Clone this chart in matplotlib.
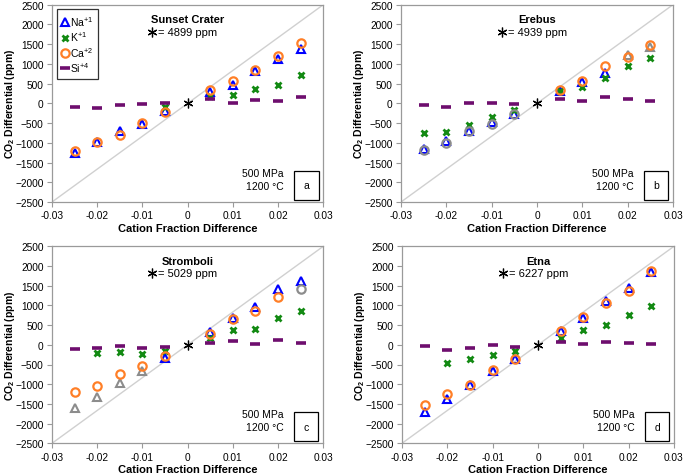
import numpy as np
import matplotlib
matplotlib.use("Agg")
import matplotlib.pyplot as plt

plt.rcParams['font.family'] = ['Liberation Sans', 'DejaVu Sans']
plt.rcParams['mathtext.fontset'] = 'custom'
plt.rcParams['mathtext.rm'] = 'Liberation Sans'
plt.rcParams['mathtext.bf'] = 'Liberation Sans:bold'
plt.rcParams['mathtext.it'] = 'Liberation Sans:italic'

nan = float("nan")

# ---------------- data ----------------
x_vals = [-0.025, -0.02, -0.015, -0.01, -0.005, 0.005, 0.01, 0.015, 0.02, 0.025]

panel_names = ["Sunset Crater", "Erebus", "Stromboli", "Etna"]
panel_letters = ["a", "b", "c", "d"]
base_co2 = [4899, 4939, 5029, 6227]

na_sunset = [-1250, -990, -700, -520, -200, 290, 460, 830, 1120, 1390]
k_sunset = [nan, nan, nan, nan, -100, 190, 215, 360, 470, 720]
ca_sunset = [-1200, -980, -790, -500, -230, 340, 570, 850, 1190, 1540]
si_sunset = [-90, -130, -45, -15, 10, 105, 20, 80, 60, 150]

na_erebus = [-1150, -960, -700, -480, -260, 320, 550, 770, 1230, 1440]
k_erebus = [-760, -730, -545, -350, -180, 310, 410, 650, 950, 1160]
ca_erebus = [-1180, -1000, -710, -520, -265, 350, 560, 955, 1170, 1490]
si_erebus = [-30, -80, 0, 0, -20, 115, 60, 155, 115, 60]

na_stromboli = [-1610, -1320, -970, -670, -330, 330, 680, 970, 1420, 1620]
k_stromboli = [nan, -205, -175, -230, -150, 175, 375, 395, 680, 860]
ca_stromboli = [-1205, -1045, -740, -545, -290, 285, 655, 860, 1205, 1410]
si_stromboli = [-100, -70, -20, -90, -55, 45, 90, 10, 115, 45]

na_etna = [-1700, -1380, -1010, -660, -360, 345, 690, 1110, 1440, 1850]
k_etna = [nan, -470, -370, -260, -170, 160, 380, 515, 760, 990]
ca_etna = [-1520, -1250, -1020, -650, -365, 355, 710, 1055, 1370, 1875]
si_etna = [-20, -120, -75, -10, -60, 70, 15, 75, 50, 10]

# points shown in grey (flag per point)
na_grey = [
    [0] * 10,
    [0, 0, 0, 0, 0, 0, 0, 0, 1, 1],
    [1, 1, 1, 1, 0, 0, 0, 0, 0, 0],
    [0] * 10,
]
ca_grey = [
    [0] * 10,
    [1, 1, 1, 1, 1, 0, 0, 0, 0, 0],
    [0, 0, 0, 0, 0, 0, 0, 0, 0, 1],
    [0] * 10,
]

na_all = [na_sunset, na_erebus, na_stromboli, na_etna]
k_all = [k_sunset, k_erebus, k_stromboli, k_etna]
ca_all = [ca_sunset, ca_erebus, ca_stromboli, ca_etna]
si_all = [si_sunset, si_erebus, si_stromboli, si_etna]

x_ticks = [-0.03, -0.02, -0.01, 0, 0.01, 0.02, 0.03]
x_ticklabels = ["-0.03", "-0.02", "-0.01", "0", "0.01", "0.02", "0.03"]
y_ticks = [-2500, -2000, -1500, -1000, -500, 0, 500, 1000, 1500, 2000, 2500]

# ---------------- style ----------------
BLUE = "#0000FF"
GREEN = "#138A13"
ORANGE = "#FF7F27"
PURPLE = "#6E0E6E"
GREY = "#8C8C8C"
SPINE = "#9A9A9A"

fig = plt.figure(figsize=(6.85, 4.77), dpi=100)
W, H = 685, 477
boxes = [(52, 5.7, 323.3, 203), (401, 5.7, 673, 203),
         (52, 247.3, 323.3, 444.3), (402, 247.3, 674, 444.3)]

x = np.array(x_vals)
for i in range(4):
    l, t, r, b = boxes[i]
    ax = fig.add_axes([l / W, 1 - b / H, (r - l) / W, (b - t) / H])
    ax.set_xlim(-0.03, 0.03)
    ax.set_ylim(-2500, 2500)
    ax.axline((0, 0), (1, 1), transform=ax.transAxes, color="#D0D0D0", lw=1.0, zorder=1)

    na = np.array(na_all[i], float); ca = np.array(ca_all[i], float)
    k = np.array(k_all[i], float); si = np.array(si_all[i], float)
    ng = np.array(na_grey[i], bool); cg = np.array(ca_grey[i], bool)

    hna, = ax.plot(x[~ng], na[~ng], ls="none", marker="^", ms=6, mfc="none",
                   mec=BLUE, mew=1.5, zorder=3)
    ax.plot(x[ng], na[ng], ls="none", marker="^", ms=6, mfc="none",
            mec=GREY, mew=1.5, zorder=3)
    hk, = ax.plot(x, k, ls="none", marker="x", ms=5, mec=GREEN, mew=2.0, zorder=4)
    hca, = ax.plot(x[~cg], ca[~cg], ls="none", marker="o", ms=6, mfc="none",
                   mec=ORANGE, mew=1.6, zorder=5)
    ax.plot(x[cg], ca[cg], ls="none", marker="o", ms=6, mfc="none",
            mec=GREY, mew=1.6, zorder=5)
    hsi, = ax.plot(x, si, ls="none", marker="_", ms=7, mec=PURPLE, mew=2.6, zorder=6)
    ax.plot([0], [0], ls="none", marker=(6, 2, 0), ms=7, mec="black", mew=0.9, zorder=7)

    ax.set_xticks(x_ticks)
    ax.set_xticklabels(x_ticklabels)
    ax.set_yticks(y_ticks)
    ax.tick_params(axis="both", direction="out", length=3.5, width=0.8, color=SPINE,
                   labelsize=7.3, pad=2.5)
    for s in ax.spines.values():
        s.set_color(SPINE)
        s.set_linewidth(0.9)

    ax.set_xlabel("Cation Fraction Difference", fontsize=8, fontweight="bold")
    ax.xaxis.set_label_coords(0.5, -0.105)
    ax.set_ylabel(r"CO$_\mathbf{2}$ Differential (ppm)", fontsize=7.5, fontweight="bold")
    ax.yaxis.set_label_coords(-0.13, 0.5)

    ax.text(0.5, 0.925, panel_names[i], transform=ax.transAxes, ha="center",
            va="center", fontsize=8, fontweight="bold")
    ax.plot([0.37], [0.862], transform=ax.transAxes, ls="none", marker=(6, 2, 0),
            ms=7, mec="black", mew=0.9, clip_on=False)
    ax.text(0.392, 0.862, "= %d ppm" % base_co2[i], transform=ax.transAxes,
            ha="left", va="center", fontsize=8)

    ax.text(0.855, 0.115, "500 MPa\n1200 \u00b0C", transform=ax.transAxes,
            ha="right", va="center", fontsize=7.5, linespacing=1.35)
    ax.text(0.938, 0.085, panel_letters[i], transform=ax.transAxes, ha="center",
            va="center", fontsize=7.5,
            bbox=dict(boxstyle="square,pad=0.9", fc="white", ec="black", lw=0.9))

    if i == 0:
        leg = ax.legend([hna, hk, hca, hsi],
                        ["Na$^{+1}$", "K$^{+1}$", "Ca$^{+2}$", "Si$^{+4}$"],
                        loc="upper left", bbox_to_anchor=(0.018, 0.976),
                        fontsize=7.5, frameon=True, fancybox=False, edgecolor="black",
                        handlelength=0.6, handletextpad=0.25, labelspacing=0.15,
                        borderpad=0.45, borderaxespad=0)
        leg.get_frame().set_linewidth(0.9)

fig.savefig("out.png", dpi=100)
